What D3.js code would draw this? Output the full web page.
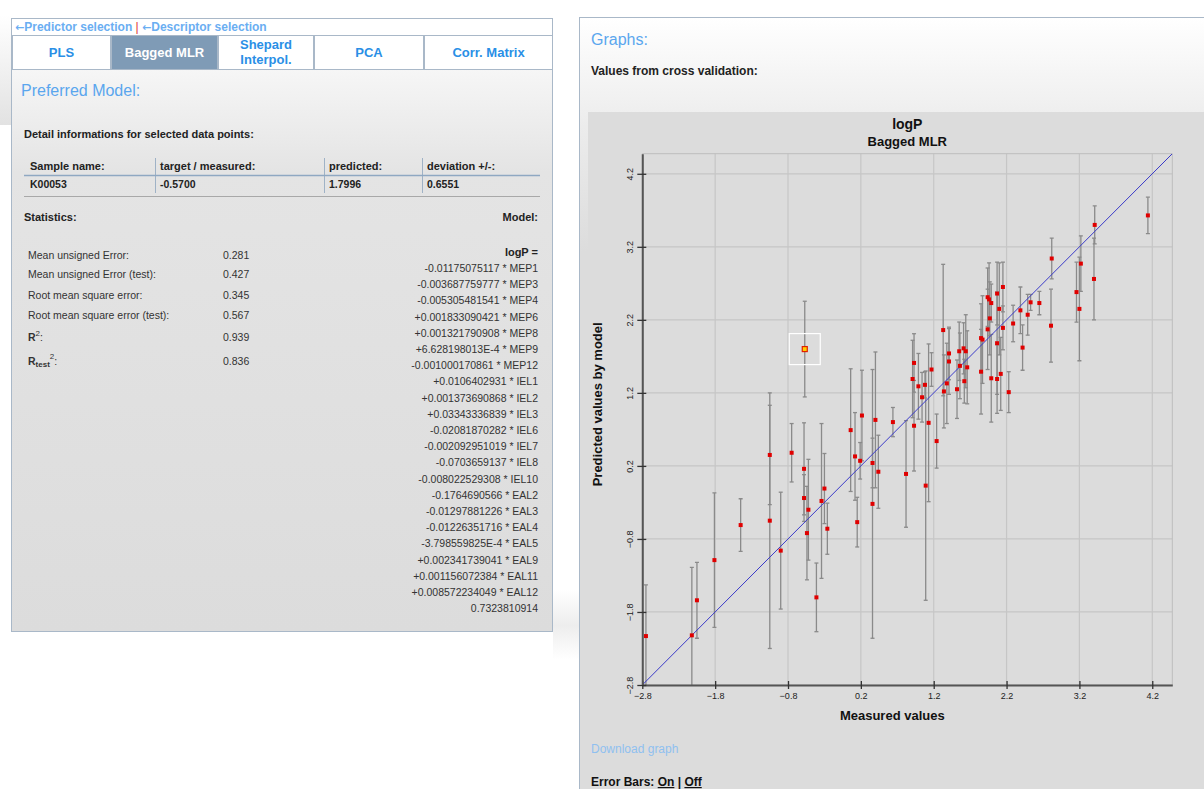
<!DOCTYPE html>
<html>
<head>
<meta charset="utf-8">
<script src="https://cdn.jsdelivr.net/npm/d3@7/dist/d3.min.js"></script>
<style>
  html, body { margin: 0; padding: 0; background: #ffffff; }
  svg { display: block; font-family: "Liberation Sans", Arial, sans-serif; }
</style>
</head>
<body>
<svg id="page" width="1204" height="789"></svg>
<script>
// ---- Cross-validation results (measured vs. predicted logP, with +/- deviation) ----
const measured = [
  -2.75, -2.12, -2.05, -1.81, -1.45, -1.05, -1.05, -0.90, -0.75, -0.58,
  -0.58, -0.52, -0.54, -0.41, -0.34, -0.30, -0.26, 0.06, 0.12, 0.215,
  0.19, 0.15, 0.36, 0.36, 0.40, 0.44, 0.64, 0.82, 0.93, 1.09,
  1.13, 1.24, 0.93, 0.91, 0.99, 1.04, 1.08, 1.17, 1.33, 1.34,
  1.38, 1.41, 1.41, 1.52, 1.55, 1.61, 1.64, 1.56, 1.66, 1.62,
  1.85, 1.85, 1.87, 1.94, 1.97, 1.94, 1.96, 1.99, 1.99, 2.07,
  2.10, 2.15, 2.15, 2.07, 2.07, 2.12, 2.23, 2.29, 2.39, 2.42,
  2.49, 2.53, 2.65, 2.81, 2.82, 3.16, 3.20, 3.22, 3.40, 3.41,
  4.14
];
const predicted = [
  -2.13, -2.12, -1.64, -1.09, -0.61, 0.35, -0.55, -0.96, 0.38, 0.16,
  -0.24, -0.40, -0.72, -1.60, -0.28, -0.11, -0.66, 0.69, 0.33, 0.89,
  0.27, -0.57, -0.32, 0.24, 0.83, 0.12, 0.80, 0.09, 0.75, -0.07,
  0.79, 0.54, 1.61, 1.39, 1.29, 1.14, 1.31, 1.52, 2.06, 1.22,
  1.33, 1.74, 1.63, 1.25, 1.77, 1.81, 1.77, 1.57, 1.55, 1.36,
  1.49, 1.95, 1.93, 2.07, 2.22, 2.51, 2.48, 2.43, 1.40, 2.56,
  2.35, 2.65, 2.09, 1.88, 1.39, 1.46, 1.21, 2.15, 2.33, 1.82,
  2.27, 2.44, 2.43, 2.12, 3.04, 2.58, 2.35, 2.97, 2.76, 3.50,
  3.63
];
const deviation = [
  0.70, 0.93, 0.52, 0.92, 0.36, 0.68, 1.75, 0.80, 0.40, 0.63,
  0.32, 0.69, 0.64, 0.47, 1.06, 0.48, 0.35, 0.84, 0.60, 0.62,
  0.25, 0.34, 1.84, 0.34, 0.93, 0.50, 0.20, 0.73, 0.62, 1.57,
  1.08, 0.37, 0.40, 0.53, 0.45, 0.34, 0.18, 0.23, 0.90, 0.50,
  0.55, 0.36, 0.45, 0.40, 0.40, 0.35, 0.50, 0.45, 0.50, 0.30,
  0.58, 0.47, 0.60, 0.55, 0.50, 0.40, 0.50, 0.26, 0.60, 0.43,
  0.63, 0.34, 0.30, 0.70, 0.47, 0.50, 0.28, 0.25, 0.32, 0.31,
  0.28, 0.11, 0.16, 0.50, 0.28, 0.41, 0.71, 0.38, 0.56, 0.26,
  0.25
];

// Selected sample
const selName = "K00053";
const selMeasured = -0.5700;
const selPredicted = 1.7996;
const selDeviation = 0.6551;

// Axis ticks (shared by both axes)
const tickValues = [-2.8, -1.8, -0.8, 0.2, 1.2, 2.2, 3.2, 4.2];
const axisMin = -2.8, axisMax = 4.475;

// Statistics table
const statLabels = ["Mean unsigned Error:", "Mean unsigned Error (test):", "Root mean square error:", "Root mean square error (test):"];
const statValues = ["0.281", "0.427", "0.345", "0.567"];
const r2Values = ["0.939", "0.836"];

// Model equation
const modelLines = [
  "-0.01175075117 * MEP1", "-0.003687759777 * MEP3", "-0.005305481541 * MEP4",
  "+0.001833090421 * MEP6", "+0.001321790908 * MEP8", "+6.628198013E-4 * MEP9",
  "-0.001000170861 * MEP12", "+0.0106402931 * IEL1", "+0.001373690868 * IEL2",
  "+0.03343336839 * IEL3", "-0.02081870282 * IEL6", "-0.002092951019 * IEL7",
  "-0.0703659137 * IEL8", "-0.008022529308 * IEL10", "-0.1764690566 * EAL2",
  "-0.01297881226 * EAL3", "-0.01226351716 * EAL4", "-3.798559825E-4 * EAL5",
  "+0.002341739041 * EAL9", "+0.001156072384 * EAL11", "+0.008572234049 * EAL12",
  "0.7323810914"
];

const tabs = ["PLS", "Bagged MLR", "Shepard|Interpol.", "PCA", "Corr. Matrix"];
const tabEdges = [12, 111, 218, 314, 424, 553];

const svg = d3.select("#page");
const defs = svg.append("defs");

function vGrad(id, stops) {
  const g = defs.append("linearGradient").attr("id", id).attr("x1", 0).attr("y1", 0).attr("x2", 0).attr("y2", 1);
  stops.forEach(s => g.append("stop").attr("offset", s[0]).attr("stop-color", s[1]));
}
vGrad("leftBg", [[0, "#ffffff"], [0.25, "#e4e4e4"], [1, "#dcdcdc"]]);
vGrad("rightBg", [[0, "#ffffff"], [0.14, "#ececec"], [0.3, "#dcdcdc"], [1, "#dcdcdc"]]);
vGrad("shade", [[0, "#ffffff"], [1, "#e2e2e2"]]);
const hs = defs.append("linearGradient").attr("id", "gapShade").attr("x1", 0).attr("y1", 0).attr("x2", 0).attr("y2", 1);
hs.append("stop").attr("offset", 0).attr("stop-color", "#ffffff");
hs.append("stop").attr("offset", 0.5).attr("stop-color", "#ededed");
hs.append("stop").attr("offset", 1).attr("stop-color", "#ffffff");

const blueLink = "#6aaef2";
const blueTab = "#2a8fe6";
const textDark = "#222222";

// ================= LEFT PANEL =================
const left = svg.append("g");
left.append("rect").attr("x", 0).attr("y", 15).attr("width", 11).attr("height", 110).attr("fill", "url(#shade)");
left.append("rect").attr("x", 11.5).attr("y", 18.5).attr("width", 541).attr("height", 613)
  .attr("fill", "url(#leftBg)").attr("stroke", "#a9b8c8");
left.append("rect").attr("x", 12).attr("y", 19).attr("width", 540).attr("height", 16).attr("fill", "#ffffff");

// navigation links
const nav = left.append("text").attr("x", 15).attr("y", 31).attr("font-size", 12).attr("font-weight", "bold");
nav.append("tspan").attr("fill", blueLink).attr("font-family", "DejaVu Sans").attr("font-size", 11).text("\u2190");
nav.append("tspan").attr("fill", blueLink).text("Predictor selection ");
nav.append("tspan").attr("fill", "#e03030").attr("font-weight", "normal").text("| ");
nav.append("tspan").attr("fill", blueLink).attr("font-family", "DejaVu Sans").attr("font-size", 11).text(" \u2190");
nav.append("tspan").attr("fill", blueLink).text("Descriptor selection");

// tabs
tabs.forEach((t, i) => {
  const x0 = tabEdges[i], x1 = tabEdges[i + 1];
  const active = i === 1;
  left.append("rect").attr("x", x0 + 0.5).attr("y", 35.5).attr("width", x1 - x0 - 1).attr("height", 34)
    .attr("fill", active ? "#7f9bb6" : "#ffffff").attr("stroke", "#a9b8c8");
  const parts = t.split("|");
  const cx = (x0 + x1) / 2;
  parts.forEach((p, k) => {
    left.append("text").attr("x", cx).attr("y", parts.length === 1 ? 57 : 49 + k * 15)
      .attr("text-anchor", "middle").attr("font-size", 13).attr("font-weight", "bold")
      .attr("fill", active ? "#ffffff" : blueTab).text(p);
  });
});

left.append("text").attr("x", 21).attr("y", 96).attr("font-size", 16).attr("fill", "#5aa6ee").text("Preferred Model:");
left.append("text").attr("x", 24).attr("y", 138).attr("font-size", 11).attr("font-weight", "bold").attr("fill", textDark)
  .text("Detail informations for selected data points:");

// detail table
const colX = [30, 160, 329, 427];
const sepX = [155, 324, 422];
["Sample name:", "target / measured:", "predicted:", "deviation +/-:"].forEach((h, i) => {
  left.append("text").attr("x", colX[i]).attr("y", 170).attr("font-size", 11).attr("font-weight", "bold").attr("fill", textDark).text(h);
});
[selName, selMeasured.toFixed(4), selPredicted.toFixed(4), selDeviation.toFixed(4)].forEach((v, i) => {
  left.append("text").attr("x", colX[i]).attr("y", 188).attr("font-size", 10.5).attr("font-weight", "bold").attr("fill", textDark).text(v);
});
sepX.forEach(x => left.append("line").attr("x1", x + 0.5).attr("x2", x + 0.5).attr("y1", 158).attr("y2", 193).attr("stroke", "#9fb2c6"));
left.append("line").attr("x1", 24).attr("x2", 540).attr("y1", 175.5).attr("y2", 175.5).attr("stroke", "#8fa8c2").attr("stroke-width", 1.5);
left.append("line").attr("x1", 24).attr("x2", 540).attr("y1", 196.5).attr("y2", 196.5).attr("stroke", "#a8a8a8");

left.append("text").attr("x", 24).attr("y", 221).attr("font-size", 11).attr("font-weight", "bold").attr("fill", textDark).text("Statistics:");
left.append("text").attr("x", 538).attr("y", 221).attr("text-anchor", "end").attr("font-size", 11).attr("font-weight", "bold").attr("fill", textDark).text("Model:");

// statistics
const statY = [259, 278, 299, 319];
statLabels.forEach((l, i) => {
  left.append("text").attr("x", 28).attr("y", statY[i]).attr("font-size", 10.5).attr("fill", "#333").text(l);
  left.append("text").attr("x", 223).attr("y", statY[i]).attr("font-size", 10.5).attr("fill", "#333").text(statValues[i]);
});
const r2 = left.append("text").attr("x", 28).attr("y", 341).attr("font-size", 10.5).attr("fill", "#333");
r2.append("tspan").attr("font-weight", "bold").text("R");
r2.append("tspan").attr("dy", -5).attr("font-size", 8).text("2");
r2.append("tspan").attr("dy", 5).text(":");
left.append("text").attr("x", 223).attr("y", 341).attr("font-size", 10.5).attr("fill", "#333").text(r2Values[0]);
const rt = left.append("text").attr("x", 28).attr("y", 365).attr("font-size", 10.5).attr("fill", "#333");
rt.append("tspan").attr("font-weight", "bold").text("R");
rt.append("tspan").attr("dy", 2).attr("font-size", 8).attr("font-weight", "bold").text("test");
rt.append("tspan").attr("dy", -8).attr("font-size", 8).text("2");
rt.append("tspan").attr("dy", 6).text(":");
left.append("text").attr("x", 223).attr("y", 365).attr("font-size", 10.5).attr("fill", "#333").text(r2Values[1]);

// model equation
left.append("text").attr("x", 538).attr("y", 256).attr("text-anchor", "end").attr("font-size", 11).attr("font-weight", "bold").attr("fill", textDark).text("logP =");
modelLines.forEach((l, i) => {
  left.append("text").attr("x", 538).attr("y", 272 + i * 16.2).attr("text-anchor", "end")
    .attr("font-size", 10.5).attr("fill", "#333").text(l);
});

// ================= RIGHT PANEL =================
const right = svg.append("g");
right.append("rect").attr("x", 553).attr("y", 590).attr("width", 26).attr("height", 70).attr("fill", "url(#gapShade)");
right.append("rect").attr("x", 579.5).attr("y", 17.5).attr("width", 630).attr("height", 780)
  .attr("fill", "url(#rightBg)").attr("stroke", "#a9b8c8");
right.append("text").attr("x", 591).attr("y", 45).attr("font-size", 16).attr("fill", "#5aa6ee").text("Graphs:");
right.append("text").attr("x", 591).attr("y", 75).attr("font-size", 12).attr("font-weight", "bold").attr("fill", textDark).text("Values from cross validation:");

// chart canvas
right.append("rect").attr("x", 588).attr("y", 112).attr("width", 616).attr("height", 618).attr("fill", "#dcdcdc");

const x = d3.scaleLinear().domain([axisMin, axisMax]).range([642.3, 1172.3]);
const y = d3.scaleLinear().domain([axisMin, axisMax]).range([685, 153.7]);

const chart = right.append("g");

// grid
chart.append("g").selectAll("line").data(tickValues).join("line")
  .attr("x1", d => x(d)).attr("x2", d => x(d)).attr("y1", y(axisMax)).attr("y2", y(axisMin))
  .attr("stroke", "#c6c6c6").attr("stroke-width", 1.2);
chart.append("g").selectAll("line").data(tickValues).join("line")
  .attr("x1", x(axisMin)).attr("x2", x(axisMax)).attr("y1", d => y(d)).attr("y2", d => y(d))
  .attr("stroke", "#c6c6c6").attr("stroke-width", 1.2);
// outer frame (top / right)
chart.append("line").attr("x1", x(axisMin)).attr("x2", x(axisMax)).attr("y1", y(axisMax)).attr("y2", y(axisMax)).attr("stroke", "#bdbdbd");
chart.append("line").attr("x1", x(axisMax)).attr("x2", x(axisMax)).attr("y1", y(axisMax)).attr("y2", y(axisMin)).attr("stroke", "#bdbdbd");

// clip for data marks
defs.append("clipPath").attr("id", "plotClip").append("rect")
  .attr("x", x(axisMin)).attr("y", y(axisMax)).attr("width", x(axisMax) - x(axisMin)).attr("height", y(axisMin) - y(axisMax));

const marks = chart.append("g").attr("clip-path", "url(#plotClip)");

const pts = measured.map((m, i) => ({ m, p: predicted[i], d: deviation[i] }));

// error bars
const eb = marks.append("g").attr("stroke", "#8a8a8a").attr("stroke-width", 1.3);
const allBars = pts.concat([{ m: selMeasured, p: selPredicted, d: selDeviation }]);
allBars.forEach(o => {
  const cx = x(o.m), y1 = y(o.p + o.d), y2 = y(o.p - o.d);
  eb.append("line").attr("x1", cx).attr("x2", cx).attr("y1", y1).attr("y2", y2);
  eb.append("line").attr("x1", cx - 2).attr("x2", cx + 2).attr("y1", y1).attr("y2", y1);
  eb.append("line").attr("x1", cx - 2).attr("x2", cx + 2).attr("y1", y2).attr("y2", y2);
});

// ideal line y = x
marks.append("line").attr("x1", x(axisMin)).attr("y1", y(axisMin)).attr("x2", x(axisMax)).attr("y2", y(axisMax))
  .attr("stroke", "#3a3ac8").attr("stroke-width", 1);

// points
marks.append("g").selectAll("rect").data(pts).join("rect")
  .attr("x", d => x(d.m) - 2).attr("y", d => y(d.p) - 2).attr("width", 4).attr("height", 4)
  .attr("fill", "#e00000");

// selected point
const sx = x(selMeasured), sy = y(selPredicted);
chart.append("rect").attr("x", sx - 15.5).attr("y", sy - 15.5).attr("width", 31).attr("height", 31)
  .attr("fill", "none").attr("stroke", "#ffffff").attr("stroke-width", 1.2);
chart.append("rect").attr("x", sx - 2.5).attr("y", sy - 2.5).attr("width", 5).attr("height", 5)
  .attr("fill", "#ffd000").attr("stroke", "#e02000").attr("stroke-width", 1.2);

// axes
const xAxis = d3.axisBottom(x).tickValues(tickValues).tickFormat(d3.format(".1f")).tickSizeInner(4).tickSizeOuter(0).tickPadding(4);
const yAxis = d3.axisLeft(y).tickValues(tickValues).tickFormat(d3.format(".1f")).tickSizeInner(5).tickSizeOuter(0).tickPadding(4);

const gx = chart.append("g").attr("transform", `translate(0,${y(axisMin)})`).call(xAxis);
gx.select(".domain").attr("stroke", "#555").attr("stroke-width", 2);
gx.selectAll(".tick line").attr("stroke", "#333").attr("stroke-width", 1.3).attr("y1", -4);
gx.selectAll(".tick text").attr("font-size", 9).attr("fill", "#222").attr("font-family", "Liberation Sans, Arial, sans-serif");

const gy = chart.append("g").attr("transform", `translate(${x(axisMin)},0)`).call(yAxis);
gy.select(".domain").attr("stroke", "#555").attr("stroke-width", 2);
gy.selectAll(".tick line").attr("stroke", "#333").attr("stroke-width", 1.3).attr("x1", 4);
gy.selectAll(".tick text").attr("font-size", 9).attr("fill", "#222").attr("font-family", "Liberation Sans, Arial, sans-serif")
  .attr("text-anchor", "middle").attr("x", 0).attr("dy", 0)
  .attr("transform", "translate(-12,0) rotate(-90)").attr("y", 3);

// titles
const midX = (x(axisMin) + x(axisMax)) / 2;
chart.append("text").attr("x", midX).attr("y", 129).attr("text-anchor", "middle").attr("font-size", 14).attr("font-weight", "bold").attr("fill", "#111").text("logP");
chart.append("text").attr("x", midX).attr("y", 146).attr("text-anchor", "middle").attr("font-size", 13).attr("font-weight", "bold").attr("fill", "#111").text("Bagged MLR");
chart.append("text").attr("x", midX - 15).attr("y", 720).attr("text-anchor", "middle").attr("font-size", 13).attr("font-weight", "bold").attr("fill", "#111").text("Measured values");
chart.append("text").attr("transform", `translate(602,${(y(axisMin) + y(axisMax)) / 2 - 15}) rotate(-90)`)
  .attr("text-anchor", "middle").attr("font-size", 13).attr("font-weight", "bold").attr("fill", "#111").text("Predicted values by model");

// footer links
right.append("text").attr("x", 591).attr("y", 753).attr("font-size", 12).attr("fill", "#8fc0f0").text("Download graph");
const eb2 = right.append("text").attr("x", 591).attr("y", 786).attr("font-size", 12).attr("font-weight", "bold").attr("fill", "#111");
eb2.append("tspan").text("Error Bars: ");
eb2.append("tspan").attr("text-decoration", "underline").text("On");
eb2.append("tspan").text(" | ");
eb2.append("tspan").attr("text-decoration", "underline").text("Off");
</script>
</body>
</html>
